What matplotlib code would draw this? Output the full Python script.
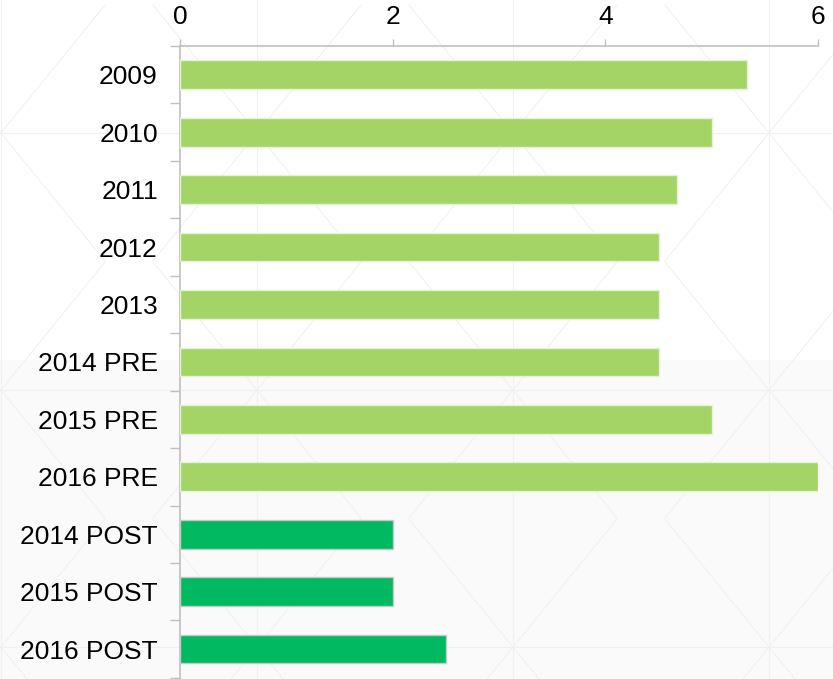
import matplotlib
matplotlib.use("Agg")
import matplotlib.pyplot as plt
import numpy as np

categories = ["2009", "2010", "2011", "2012", "2013", "2014 PRE", "2015 PRE",
              "2016 PRE", "2014 POST", "2015 POST", "2016 POST"]
values = [5.33, 5.0, 4.67, 4.5, 4.5, 4.5, 5.0, 6.0, 2.0, 2.0, 2.5]
groups = ["PRE"] * 8 + ["POST"] * 3
x_ticks = [0, 2, 4, 6]

colors = {"PRE": "#a3d465", "POST": "#00b960"}
edges = {"PRE": "#e4f3d6", "POST": "#c8c8c8"}

plt.rcParams['font.family'] = ['Liberation Sans', 'DejaVu Sans']

W, H = 833, 679
fig = plt.figure(figsize=(W / 100, H / 100), dpi=100)
fig.patch.set_facecolor("white")

# background: lower part slightly grey, faint pattern lines
bg = fig.add_axes([0, 0, 1, 1], zorder=-10)
bg.set_xlim(0, W)
bg.set_ylim(H, 0)
bg.axis("off")
bg.add_patch(plt.Rectangle((0, 360), W, H - 360, color="#fafafa", lw=0))
lc = "#f0f0f0"
for vx in [1, 257, 513, 769]:
    bg.plot([vx, vx], [0, H], color=lc, lw=0.8)
for hy in [133, 390, 647]:
    bg.plot([0, W], [hy, hy], color=lc, lw=0.8)
for cx in range(1, W + 300, 256):
    for cy in [133, 390, 647]:
        for dx in (-1, 1):
            bg.plot([cx - 104 * dx, cx + 104 * dx], [cy - 128, cy + 128],
                    color=lc, lw=0.7)

ax = fig.add_axes([180 / W, 0, (818 - 180) / W, (H - 46) / H])
ax.patch.set_alpha(0)

y = np.arange(len(categories))
for i, (v, g) in enumerate(zip(values, groups)):
    ax.barh(y[i], v, height=0.5, color=colors[g], edgecolor=edges[g],
            linewidth=1.0, zorder=3)

ax.set_xlim(0, 6)
ax.set_ylim(len(categories) - 0.5 + 0.02, -0.5)
ax.xaxis.tick_top()
ax.set_xticks(x_ticks)
ax.set_xticklabels([str(t) for t in x_ticks], fontsize=19)
ax.tick_params(axis="x", which="major", length=5, width=1, color="#c0c0c0",
               pad=7, labelcolor="black")

ax.set_yticks(np.arange(-0.5, len(categories), 1.0))
ax.set_yticklabels([])
ax.set_yticks(y, minor=True)
ax.set_yticklabels(categories, minor=True, fontsize=19)
ax.tick_params(axis="y", which="major", length=7, width=1, color="#c0c0c0")
ax.tick_params(axis="y", which="minor", length=0, pad=16, labelcolor="black")

for s in ["bottom", "right"]:
    ax.spines[s].set_visible(False)
for s in ["top", "left"]:
    ax.spines[s].set_color("#c0c0c0")
    ax.spines[s].set_linewidth(1.2)

fig.savefig("out.png", dpi=100)
